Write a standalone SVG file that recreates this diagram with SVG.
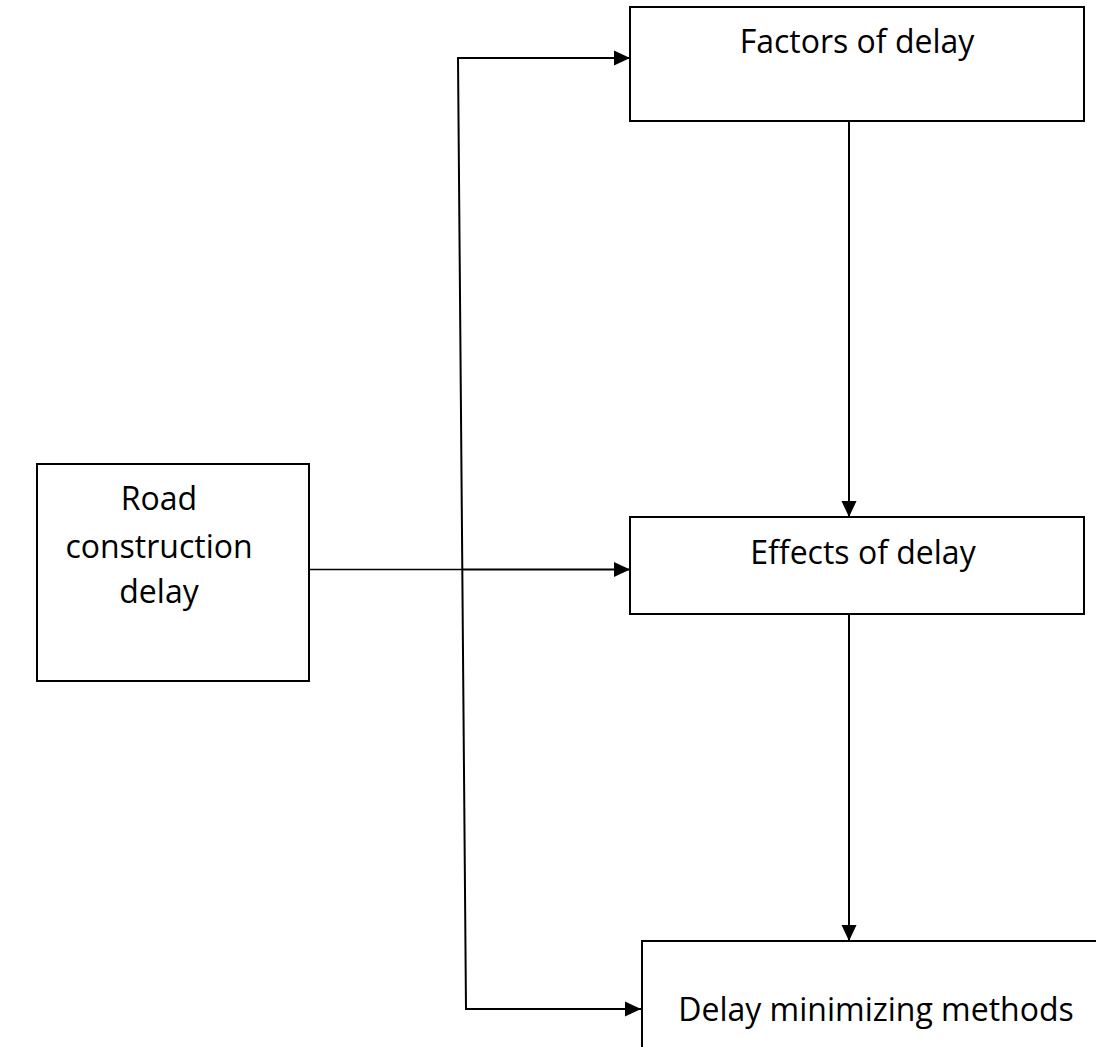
<svg xmlns="http://www.w3.org/2000/svg" width="1096" height="1047" viewBox="0 0 1096 1047">
<defs>
<style>
.box{fill:#fff;stroke:#000;stroke-width:2}
.lbl{font-family:"Open Sans","Liberation Sans",sans-serif;font-size:32px;fill:#000;text-anchor:middle}
.ln{fill:none;stroke:#000;stroke-width:2}
.thin{fill:none;stroke:#000;stroke-width:1.3}
</style>
<marker id="arr" markerUnits="userSpaceOnUse" markerWidth="16" markerHeight="16" viewBox="0 0 16 16" refX="16" refY="8" orient="auto-start-reverse">
<path d="M0,0.5 L16,8 L0,15.5 Z" fill="#000"/>
</marker>
</defs>
<rect width="1096" height="1047" fill="#fff"/>
<g id="connectors">
<line class="thin" x1="309" y1="569.5" x2="463" y2="569.5"/>
<line class="ln" x1="463" y1="569.5" x2="630" y2="569.5" marker-end="url(#arr)"/>
<polyline class="ln" points="630,58 458,58 466,1009 641,1009" marker-start="url(#arr)" marker-end="url(#arr)"/>
<line class="ln" x1="849" y1="121" x2="849" y2="517" marker-end="url(#arr)"/>
<line class="ln" x1="849" y1="614" x2="849" y2="941" marker-end="url(#arr)"/>
</g>
<g id="node-road">
<rect class="box" x="37" y="464" width="272" height="217"/>
<text class="lbl" x="159" y="510">Road</text>
<text class="lbl" x="159" y="558">construction</text>
<text class="lbl" x="159" y="603">delay</text>
</g>
<g id="node-factors">
<rect class="box" x="630" y="7" width="454" height="114"/>
<text class="lbl" x="857" y="53">Factors of delay</text>
</g>
<g id="node-effects">
<rect class="box" x="630" y="517" width="454" height="97"/>
<text class="lbl" x="863" y="564">Effects of delay</text>
</g>
<g id="node-methods">
<rect class="box" x="642" y="941" width="470" height="120"/>
<text class="lbl" x="876" y="1021">Delay minimizing methods</text>
</g>
</svg>
